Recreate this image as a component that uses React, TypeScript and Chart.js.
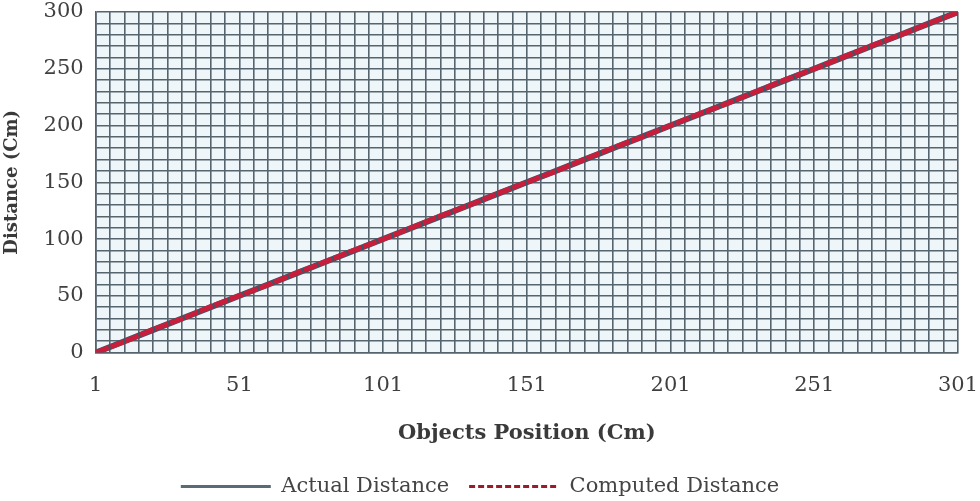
import React, { useEffect, useRef } from "react";
import { Chart, registerables } from "chart.js";

Chart.register(...registerables);

const positions = [1, 11, 21, 31, 41, 51, 61, 71, 81, 91, 101, 111, 121, 131, 141, 151, 161, 171, 181, 191, 201, 211, 221, 231, 241, 251, 261, 271, 281, 291, 301];
const actualDistance = [0, 10, 20, 30, 40, 50, 60, 70, 80, 90, 100, 110, 120, 130, 140, 150, 160, 170, 180, 190, 200, 210, 220, 230, 240, 250, 260, 270, 280, 290, 300];
const computedDistance = [0, 9.6, 20.4, 29.8, 40.5, 50.2, 59.7, 70.3, 80.1, 90.4, 99.8, 110.2, 120.5, 129.9, 140.3, 150.1, 159.6, 170.2, 180.4, 189.8, 200.1, 210.3, 219.7, 230.2, 240.5, 249.9, 260.2, 270.4, 279.8, 290.1, 299.6];
const xLabelTicks = [1, 51, 101, 151, 201, 251, 301];
const yLabelTicks = [0, 50, 100, 150, 200, 250, 300];

const FONT = "'DejaVu Serif', serif";

const plotBg = {
  id: "plotBg",
  beforeDraw(chart: any) {
    const { ctx, chartArea } = chart;
    if (!chartArea) return;
    ctx.save();
    ctx.fillStyle = "#eef6fa";
    ctx.fillRect(chartArea.left, chartArea.top, chartArea.right - chartArea.left, chartArea.bottom - chartArea.top);
    ctx.restore();
  },
};

export default function App() {
  const ref = useRef<HTMLCanvasElement | null>(null);
  useEffect(() => {
    document.body.style.margin = "0";
    const chart = new Chart(ref.current as HTMLCanvasElement, {
      type: "line",
      data: {
        datasets: [
          {
            label: "Actual Distance",
            data: positions.map((p, i) => ({ x: p, y: actualDistance[i] })),
            borderColor: "#3e5566",
            borderWidth: 6,
            pointRadius: 0,
            tension: 0,
            order: 2,
          },
          {
            label: "Computed Distance",
            data: positions.map((p, i) => ({ x: p, y: computedDistance[i] })),
            borderColor: "#c81e3c",
            borderWidth: 5,
            borderDash: [14, 2],
            pointRadius: 0,
            tension: 0,
            order: 1,
          },
        ],
      },
      options: {
        animation: false,
        responsive: false,
        maintainAspectRatio: false,
        layout: { padding: { left: 2, right: 22, top: 12, bottom: -6 } },
        plugins: {
          tooltip: { enabled: false },
          legend: {
            position: "bottom",
            labels: {
              usePointStyle: true,
              pointStyle: "line",
              pointStyleWidth: 90,
              padding: 20,
              color: "#444",
              font: { family: FONT, size: 21 },
              generateLabels(chart: any) {
                const items = Chart.defaults.plugins.legend.labels.generateLabels(chart);
                items.sort((a: any, b: any) => a.datasetIndex - b.datasetIndex);
                items.forEach((it: any) => {
                  const first = it.datasetIndex === 0;
                  it.lineWidth = 3;
                  it.pointStyle = "line";
                  it.strokeStyle = first ? "#5b6b73" : "#9b1b2a";
                  it.lineDash = first ? [] : [6, 3];
                });
                return items;
              },
            },
          },
        },
        scales: {
          x: {
            type: "linear",
            min: 1,
            max: 301,
            afterBuildTicks(scale: any) {
              const t = [];
              for (let v = 1; v <= 301; v += 5) t.push({ value: v });
              scale.ticks = t;
            },
            afterFit(scale: any) {
              scale.paddingRight = 0;
            },
            grid: { color: "#56646d", lineWidth: 1.6, drawTicks: false },
            border: { color: "#56646d", width: 1.6 },
            ticks: {
              autoSkip: false,
              maxRotation: 0,
              padding: 20,
              color: "#404040",
              font: { family: FONT, size: 21 },
              callback: (v: any) => (xLabelTicks.includes(v) ? String(v) : ""),
            },
            title: {
              display: true,
              text: "Objects Position (Cm)",
              color: "#3a3a3a",
              font: { family: FONT, size: 21, weight: "bold" },
              padding: { top: 3, bottom: 10 },
            },
          },
          y: {
            type: "linear",
            min: 0,
            max: 300,
            afterBuildTicks(scale: any) {
              const t = [];
              for (let v = 0; v <= 300; v += 10) t.push({ value: v });
              scale.ticks = t;
            },
            afterFit(scale: any) {
              scale.paddingTop = 0;
              scale.paddingBottom = 0;
            },
            grid: { color: "#56646d", lineWidth: 1.6, drawTicks: false },
            border: { color: "#56646d", width: 1.6 },
            ticks: {
              autoSkip: false,
              padding: 12,
              color: "#404040",
              font: { family: FONT, size: 21 },
              callback: (v: any) => (yLabelTicks.includes(v) ? String(v) : ""),
            },
            title: {
              display: true,
              text: "Distance (Cm)",
              color: "#3a3a3a",
              font: { family: FONT, size: 18, weight: "bold" },
              padding: { top: 0, bottom: 8 },
            },
          },
        },
      },
      plugins: [plotBg],
    } as any);
    return () => chart.destroy();
  }, []);
  return (
    <div style={{ width: 980, height: 501, background: "#fff" }}>
      <canvas ref={ref} width={980} height={501} style={{ display: "block" }} />
    </div>
  );
}
